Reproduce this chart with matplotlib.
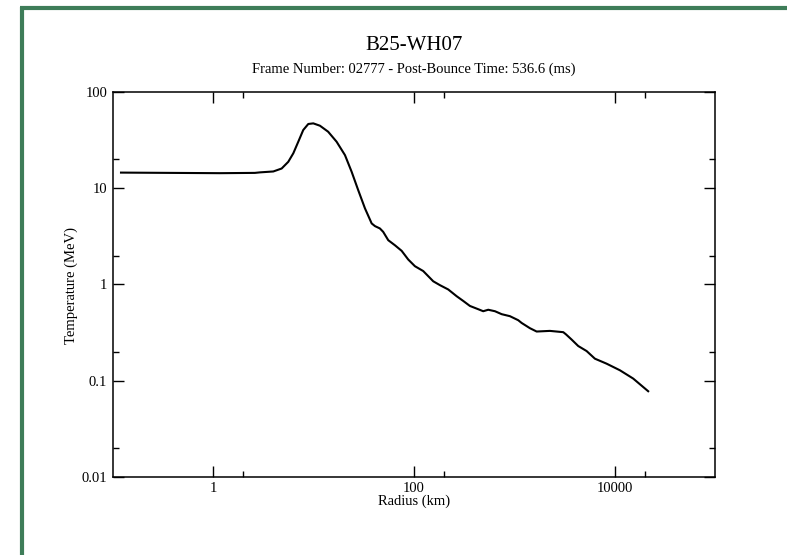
import matplotlib
matplotlib.use("Agg")
import matplotlib.pyplot as plt
from matplotlib.lines import Line2D
from matplotlib.ticker import FixedLocator, FixedFormatter, NullFormatter
import numpy as np

# perfil de temperatura
radius = np.array([0.121, 0.372, 1.17, 2.61, 2.93, 3.98, 4.82, 5.61, 6.30, 7.06,
                   7.91, 8.88, 9.96, 11.6, 14.0, 17.0, 20.6, 24.0, 27.9, 32.6,
                   38.0, 41.0, 45.9, 49.5, 55.6, 64.8, 75.6, 87.9, 102.5, 124,
                   156, 182, 220, 267, 310, 362, 438, 491, 551, 643,
                   750, 906, 1096, 1185, 1433, 1672, 2268, 3080, 3275, 3733,
                   4340, 5260, 6366, 8320, 11300, 15310, 21600])
temperature = np.array([14.6, 14.5, 14.4, 14.5, 14.68, 15.0, 16.1, 18.9, 23.2, 30.6,
                        40.5, 46.8, 47.5, 44.9, 38.9, 30.6, 22.2, 14.9, 9.6, 6.19,
                        4.32, 4.05, 3.83, 3.53, 2.89, 2.56, 2.24, 1.82, 1.55, 1.38,
                        1.08, 0.984, 0.888, 0.755, 0.675, 0.598, 0.553, 0.527, 0.546, 0.527,
                        0.491, 0.468, 0.425, 0.398, 0.351, 0.324, 0.329, 0.319, 0.303, 0.267,
                        0.229, 0.203, 0.169, 0.150, 0.128, 0.105, 0.0775])

x_ticks = [1, 100, 10000]
x_labels = ["1", "100", "10000"]
x_minor = [2, 200, 20000]
y_ticks = [0.01, 0.1, 1, 10, 100]
y_labels = ["0.01", "0.1", "1", "10", "100"]
y_minor = [0.02, 0.2, 2, 20]

title = "B25-WH07"
subtitle = "Frame Number: 02777 - Post-Bounce Time: 536.6 (ms)"

plt.rcParams['font.family'] = ['Liberation Serif', 'DejaVu Serif']

fig = plt.figure(figsize=(7.87, 5.55), dpi=100)
ax = fig.add_axes([0.1432, 0.1411, 0.7653, 0.6926])

ax.plot(radius, temperature, color='black', linewidth=1.5, solid_joinstyle='round')
ax.set_xscale('log')
ax.set_yscale('log')
ax.set_xlim(0.1, 1e5)
ax.set_ylim(0.01, 100)

ax.xaxis.set_major_locator(FixedLocator(x_ticks))
ax.xaxis.set_major_formatter(FixedFormatter(x_labels))
ax.xaxis.set_minor_locator(FixedLocator(x_minor))
ax.xaxis.set_minor_formatter(NullFormatter())
ax.yaxis.set_major_locator(FixedLocator(y_ticks))
ax.yaxis.set_major_formatter(FixedFormatter(y_labels))
ax.yaxis.set_minor_locator(FixedLocator(y_minor))
ax.yaxis.set_minor_formatter(NullFormatter())

ax.tick_params(which='both', direction='in', top=True, right=True,
               labelsize=10.5, width=1.0)
ax.tick_params(which='major', length=8, pad=4)
ax.tick_params(which='minor', length=4.3)
for s in ax.spines.values():
    s.set_linewidth(1.1)

fig.text(0.526, 1 - 46 / 555, title, ha='center', va='center', fontsize=15)
fig.text(0.526, 1 - 69 / 555, subtitle, ha='center', va='center', fontsize=10.5)
fig.text(0.526, 1 - 501 / 555, "Radius (km)", ha='center', va='center', fontsize=10.5)
fig.text(71.5 / 787, 1 - 285 / 555, "Temperature (MeV)", ha='center', va='center',
         rotation=90, fontsize=10.5)

# moldura verde (topo e esquerda)
green = '#3e7d59'
fig.add_artist(Line2D([20 / 787, 1], [1 - 8 / 555, 1 - 8 / 555], color=green,
                      linewidth=3, transform=fig.transFigure, solid_capstyle='butt'))
fig.add_artist(Line2D([22 / 787, 22 / 787], [0, 1 - 6.5 / 555], color=green,
                      linewidth=3, transform=fig.transFigure, solid_capstyle='butt'))

fig.savefig("out.png", dpi=100)
